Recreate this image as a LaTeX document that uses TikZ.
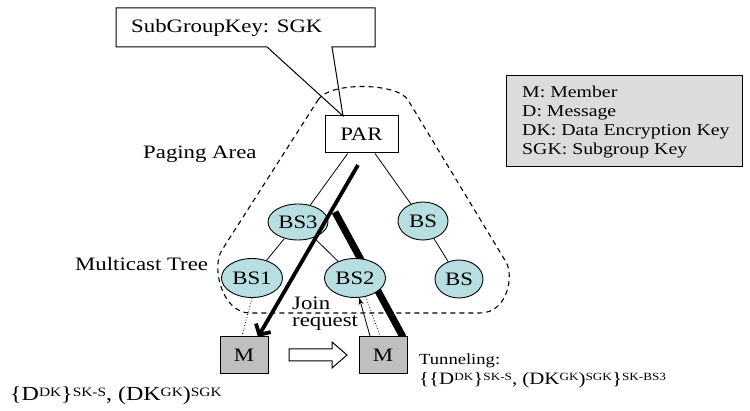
\documentclass[tikz,border=0pt]{standalone}
\usepackage{fontspec}
\usepackage{graphicx}
\setmainfont{Liberation Serif}[FakeStretch=1.2]
\usetikzlibrary{arrows.meta,shapes.geometric,calc}
\definecolor{bsfill}{HTML}{B7DEE1}
\definecolor{mfill}{HTML}{BFBFBF}
\definecolor{legendfill}{HTML}{DCDCDC}
\pgfdeclarelayer{bg}
\pgfsetlayers{bg,main}
\newcommand{\bigfont}{\fontsize{19}{20}\selectfont}
\newcommand{\smallfont}{\fontsize{16.5}{19}\selectfont}
\newcommand{\tunfont}{\fontsize{15.5}{17}\selectfont}
\newcommand{\keyfont}{\fontsize{17.4}{19}\selectfont}
\newcommand{\dirfont}{\fontsize{20}{21}\selectfont}
% superscripts for the key expressions
\newcommand{\supk}[1]{\raisebox{4.2pt}{\fontsize{11}{11}\selectfont #1}}
\newcommand{\supd}[1]{\raisebox{4.8pt}{\fontsize{12.8}{13}\selectfont #1}}
\tikzset{
  bsnode/.style={ellipse, draw, line width=0.9pt, fill=bsfill, inner sep=0pt, font=\bigfont},
  boxnode/.style={rectangle, draw, line width=1pt, inner sep=0pt, font=\bigfont},
  member/.style={boxnode, fill=mfill, minimum width=48pt, minimum height=37pt},
  label/.style={inner sep=0pt, anchor=base west},
  treeedge/.style={line width=0.8pt},
  area/.style={dashed, dash pattern=on 5pt off 4pt, line width=1.1pt},
}
\begin{document}
\begin{tikzpicture}[x=1pt,y=-1pt]
\useasboundingbox (0,0) rectangle (750,411);

% routers and base stations
\node[boxnode, minimum width=73pt, minimum height=37pt] (par) at (361.5,134.5) {PAR};
\node[bsnode, minimum width=60pt, minimum height=36pt] (bs3) at (298,222) {BS3};
\node[bsnode, minimum width=61pt, minimum height=39pt] (bs1) at (252,278) {BS1};
\node[bsnode, minimum width=61pt, minimum height=39pt] (bs2) at (355,278) {BS2};
\node[bsnode, minimum width=50pt, minimum height=38pt] (bsr) at (423,221) {BS};
\node[bsnode, minimum width=48pt, minimum height=38pt] (bsrr) at (459,279) {BS};

% members
\node[member] (m1) at (244,355) {M};
\node[member] (m2) at (383,355) {M};

\begin{pgfonlayer}{bg}
  % multicast tree
  \draw[treeedge] (par) -- (bs3);
  \draw[treeedge] (par) -- (bsr);
  \draw[treeedge] (bs3) -- (bs1);
  \draw[treeedge] (bs3) -- (bs2);
  \draw[treeedge] (bsr) -- (bsrr);
  % paging area outline
  \draw[area] (318,100) .. controls (330,81) and (398,83) .. (408,100)
    -- (506,262) .. controls (514,275) and (508,313) .. (480,313)
    -- (250,313) .. controls (222,313) and (211,267) .. (222,250)
    -- cycle;
  % tunnel from BS3 to the moved member
  \coordinate (tunA) at (335,212);
  \coordinate (tunB) at (403,337);
  \draw[line width=7pt] (tunA) -- (tunB);
\end{pgfonlayer}

% delivery path from PAR to the first member
\coordinate (delA) at (358,165);
\coordinate (delB) at (258,337);
\draw[line width=3.8pt, -{Straight Barb[length=8pt,width=17pt]}] (delA) -- (delB);

% member attachments
\draw[dotted, line width=0.8pt] (bs1.south) -- ($(m1.north)+(-2,0)$);
\draw[line width=0.8pt, -{Stealth[length=7pt,width=5pt]}] ($(m2.north)+(-13,0)$) -- (bs2.-78);
\draw[dotted, line width=0.8pt] (bs2.-60) -- ($(m2.north)+(-3,0)$);

% movement arrow
\draw[line width=1pt, fill=white] (289,349) -- (332,349) -- (332,342) -- (347,355)
  -- (332,368) -- (332,361) -- (289,361) -- cycle;

% callout with the subgroup key
\node[label, font=\bigfont] (sgk) at (131,33) {SubGroupKey: SGK};
\coordinate (apex) at (343,116);
\draw[line width=1pt] (116,8) -- (375,8) -- (375,47) -- (332,47) -- (apex)
  -- (267,47) -- (116,47) -- cycle;

% legend
\node[draw, line width=1pt, fill=legendfill, anchor=north west,
  minimum width=236pt, minimum height=91pt, inner sep=0pt] (legend) at (506,75) {};
\node[label, font=\smallfont] (lg1) at (522,98) {M: Member};
\node[label, font=\smallfont] (lg2) at (522,117) {D: Message};
\node[label, font=\smallfont] (lg3) at (522,136) {DK: Data Encryption Key};
\node[label, font=\smallfont] (lg4) at (522,155) {SGK: Subgroup Key};

% area labels
\node[label, font=\bigfont] (paging) at (143,159) {Paging Area};
\node[label, font=\bigfont] (mtree) at (75,271) {Multicast Tree};
\node[inner sep=0pt, anchor=north west, align=left, font=\fontsize{19}{16.5}\selectfont]
  (join) at (292,297) {Join\\request};

% key material
\node[label, font=\tunfont] (tunnel) at (419,365) {Tunneling:};
\node[label, font=\keyfont] (tunkey) at (419,385)
  {\{\{D\supk{DK}\}\supk{SK-S}, (DK\supk{GK})\supk{SGK}\}\supk{SK-BS3}};
\node[label, font=\dirfont] (dirkey) at (10,401)
  {\{D\supd{DK}\}\supd{SK-S}, (DK\supd{GK})\supd{SGK}};
\end{tikzpicture}
\end{document}
